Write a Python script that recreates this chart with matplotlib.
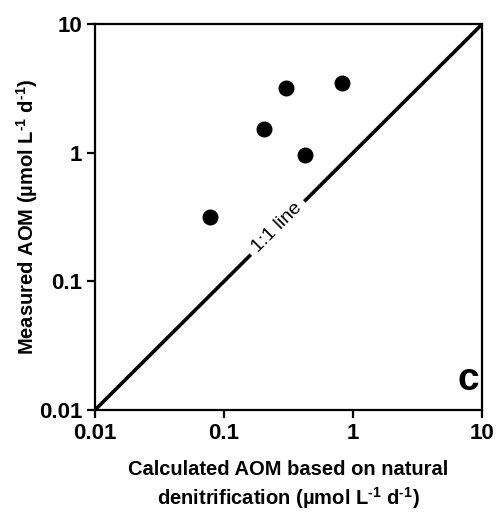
import matplotlib
matplotlib.use("Agg")
import matplotlib.pyplot as plt

plt.rcParams['font.family'] = ['Liberation Sans', 'DejaVu Sans']
plt.rcParams['font.weight'] = 'bold'
plt.rcParams['mathtext.fontset'] = 'custom'
plt.rcParams['mathtext.rm'] = 'Liberation Sans'
plt.rcParams['mathtext.bf'] = 'Liberation Sans:bold'
plt.rcParams['mathtext.default'] = 'bf'

# calculated AOM (natural denitrification) vs measured AOM, umol L-1 d-1
calculated = [0.078, 0.204, 0.302, 0.425, 0.822]
measured = [0.316, 1.52, 3.18, 0.96, 3.47]
ticks = [0.01, 0.1, 1, 10]
tick_labels = ['0.01', '0.1', '1', '10']

unit = '(µmol L$^{\u2010 1}$ d$^{\u2010 1}$)'

fig = plt.figure(figsize=(4.97, 5.14), dpi=100)
ax = fig.add_axes([0.191, 0.2023, 0.779, 0.7507])

ax.set_xscale('log')
ax.set_yscale('log')
ax.set_xlim(0.01, 10)
ax.set_ylim(0.01, 10)

# 1:1 reference line with its label on a white box
ax.plot([0.01, 10], [0.01, 10], color='black', lw=2.6, solid_capstyle='butt', zorder=2)
ax.text(0.26, 0.26, '1:1 line', rotation=45, rotation_mode='anchor',
        ha='center', va='center', fontsize=14, fontweight='normal',
        bbox=dict(facecolor='white', edgecolor='none', pad=4.5), zorder=3)

ax.scatter(calculated, measured, s=110, color='black', zorder=4)

ax.set_xticks(ticks)
ax.set_xticklabels(tick_labels)
ax.set_yticks(ticks)
ax.set_yticklabels(tick_labels)
ax.minorticks_off()
ax.tick_params(axis='both', which='major', direction='out', length=6, width=1.6,
               labelsize=16, pad=3)
for side in ['left', 'right', 'top', 'bottom']:
    ax.spines[side].set_linewidth(1.6)

ax.set_xlabel('Calculated AOM based on natural\ndenitrification ' + unit,
              fontsize=14.5, fontweight='bold', labelpad=12, linespacing=1.3)
ax.set_ylabel('Measured AOM ' + unit, fontsize=14.5,
              fontweight='bold', labelpad=-1)

ax.text(0.992, 0.03, 'c', transform=ax.transAxes, ha='right', va='bottom',
        fontsize=28, fontweight='bold')

fig.savefig('out.png', dpi=100)
